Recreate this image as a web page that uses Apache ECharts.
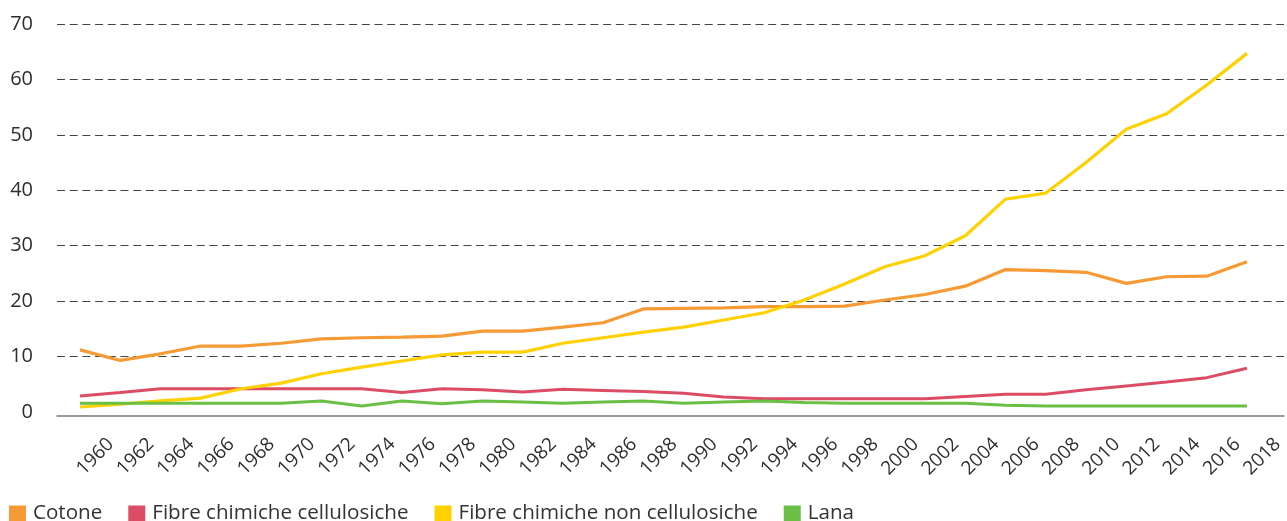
<!DOCTYPE html>
<html lang="it">
<head>
    <meta charset="UTF-8">
    <title>Produzione mondiale di fibre</title>
    <style>
        html, body { margin: 0; padding: 0; background: #fff; }
        #main { width: 1287px; height: 521px; }
    </style>
</head>
<body>
    <div id="main"></div>
    <script src="https://cdn.jsdelivr.net/npm/echarts@6/dist/echarts.min.js"></script>
    <script>
        // anni (un punto ogni due anni)
        const years = [1960, 1962, 1964, 1966, 1968, 1970, 1972, 1974, 1976, 1978,
                       1980, 1982, 1984, 1986, 1988, 1990, 1992, 1994, 1996, 1998,
                       2000, 2002, 2004, 2006, 2008, 2010, 2012, 2014, 2016, 2018];

        const cotone = [11.2, 9.3, 10.5, 11.9, 11.9, 12.4, 13.2, 13.4, 13.5, 13.7,
                        14.6, 14.6, 15.3, 16.1, 18.6, 18.7, 18.8, 19.0, 19.0, 19.1,
                        20.2, 21.2, 22.7, 25.7, 25.5, 25.2, 23.2, 24.4, 24.5, 27.1];

        const cellulosiche = [2.9, 3.5, 4.2, 4.2, 4.2, 4.2, 4.2, 4.2, 3.5, 4.2,
                              4.0, 3.6, 4.1, 3.9, 3.7, 3.4, 2.7, 2.4, 2.4, 2.4,
                              2.4, 2.4, 2.8, 3.2, 3.2, 4.0, 4.7, 5.4, 6.2, 7.9];

        const nonCellulosiche = [0.9, 1.4, 2.0, 2.5, 4.2, 5.2, 6.9, 8.1, 9.2, 10.3,
                                 10.8, 10.8, 12.4, 13.4, 14.4, 15.3, 16.6, 17.9, 20.2, 23.1,
                                 26.2, 28.2, 31.8, 38.4, 39.5, 45.0, 51.0, 53.8, 59.0, 64.7];

        const lana = [1.6, 1.6, 1.6, 1.6, 1.6, 1.6, 2.0, 1.1, 2.0, 1.5,
                      2.0, 1.8, 1.6, 1.8, 2.0, 1.6, 1.8, 2.0, 1.7, 1.6,
                      1.6, 1.6, 1.6, 1.2, 1.1, 1.1, 1.1, 1.1, 1.1, 1.1];

        const seriesNames = ['Cotone', 'Fibre chimiche cellulosiche', 'Fibre chimiche non cellulosiche', 'Lana'];
        const seriesValues = [cotone, cellulosiche, nonCellulosiche, lana];
        const colors = ['#F69A35', '#DD4C65', '#FFD100', '#6ABF45'];

        const font = '"Open Sans", "Noto Sans", sans-serif';

        const myChart = echarts.init(document.getElementById('main'));

        myChart.setOption({
            animation: false,
            color: colors,
            grid: {
                left: 57,
                right: 3,
                top: 24,
                bottom: 109
            },
            legend: {
                left: 9,
                top: 503,
                padding: 0,
                icon: 'rect',
                itemWidth: 17,
                itemHeight: 16,
                itemGap: 26,
                textStyle: {
                    fontFamily: font,
                    fontSize: 20.6,
                    color: '#333',
                    padding: [0, 0, 0, 2]
                },
                data: seriesNames
            },
            xAxis: {
                type: 'value',
                // i dati vanno da 1960 a 2018, la griglia un po' oltre
                min: 1958.857,
                max: 2019.84,
                offset: 4,
                splitLine: { show: false },
                axisTick: { show: false },
                axisLine: {
                    show: true,
                    onZero: false,
                    lineStyle: { color: '#777', width: 1.5 }
                },
                axisLabel: {
                    customValues: years,
                    formatter: function (v) { return String(v); },
                    rotate: 45,
                    align: 'left',
                    verticalAlign: 'middle',
                    margin: 56,
                    fontFamily: font,
                    fontSize: 19,
                    color: '#2e2e2e'
                }
            },
            yAxis: {
                type: 'value',
                min: 0,
                max: 70,
                interval: 10,
                axisLine: { show: false },
                axisTick: { show: false },
                axisLabel: {
                    margin: 24,
                    fontFamily: font,
                    fontSize: 20,
                    color: '#2e2e2e'
                },
                splitLine: {
                    show: true,
                    showMinLine: false,
                    lineStyle: { color: '#444', width: 1, type: [8, 4.7] }
                }
            },
            series: seriesNames.map(function (name, k) {
                return {
                    name: name,
                    type: 'line',
                    symbol: 'none',
                    lineStyle: { width: k === 0 || k === 2 ? 3.2 : 3 },
                    data: years.map(function (y, i) { return [y, seriesValues[k][i]]; })
                };
            })
        });
    </script>
</body>
</html>
